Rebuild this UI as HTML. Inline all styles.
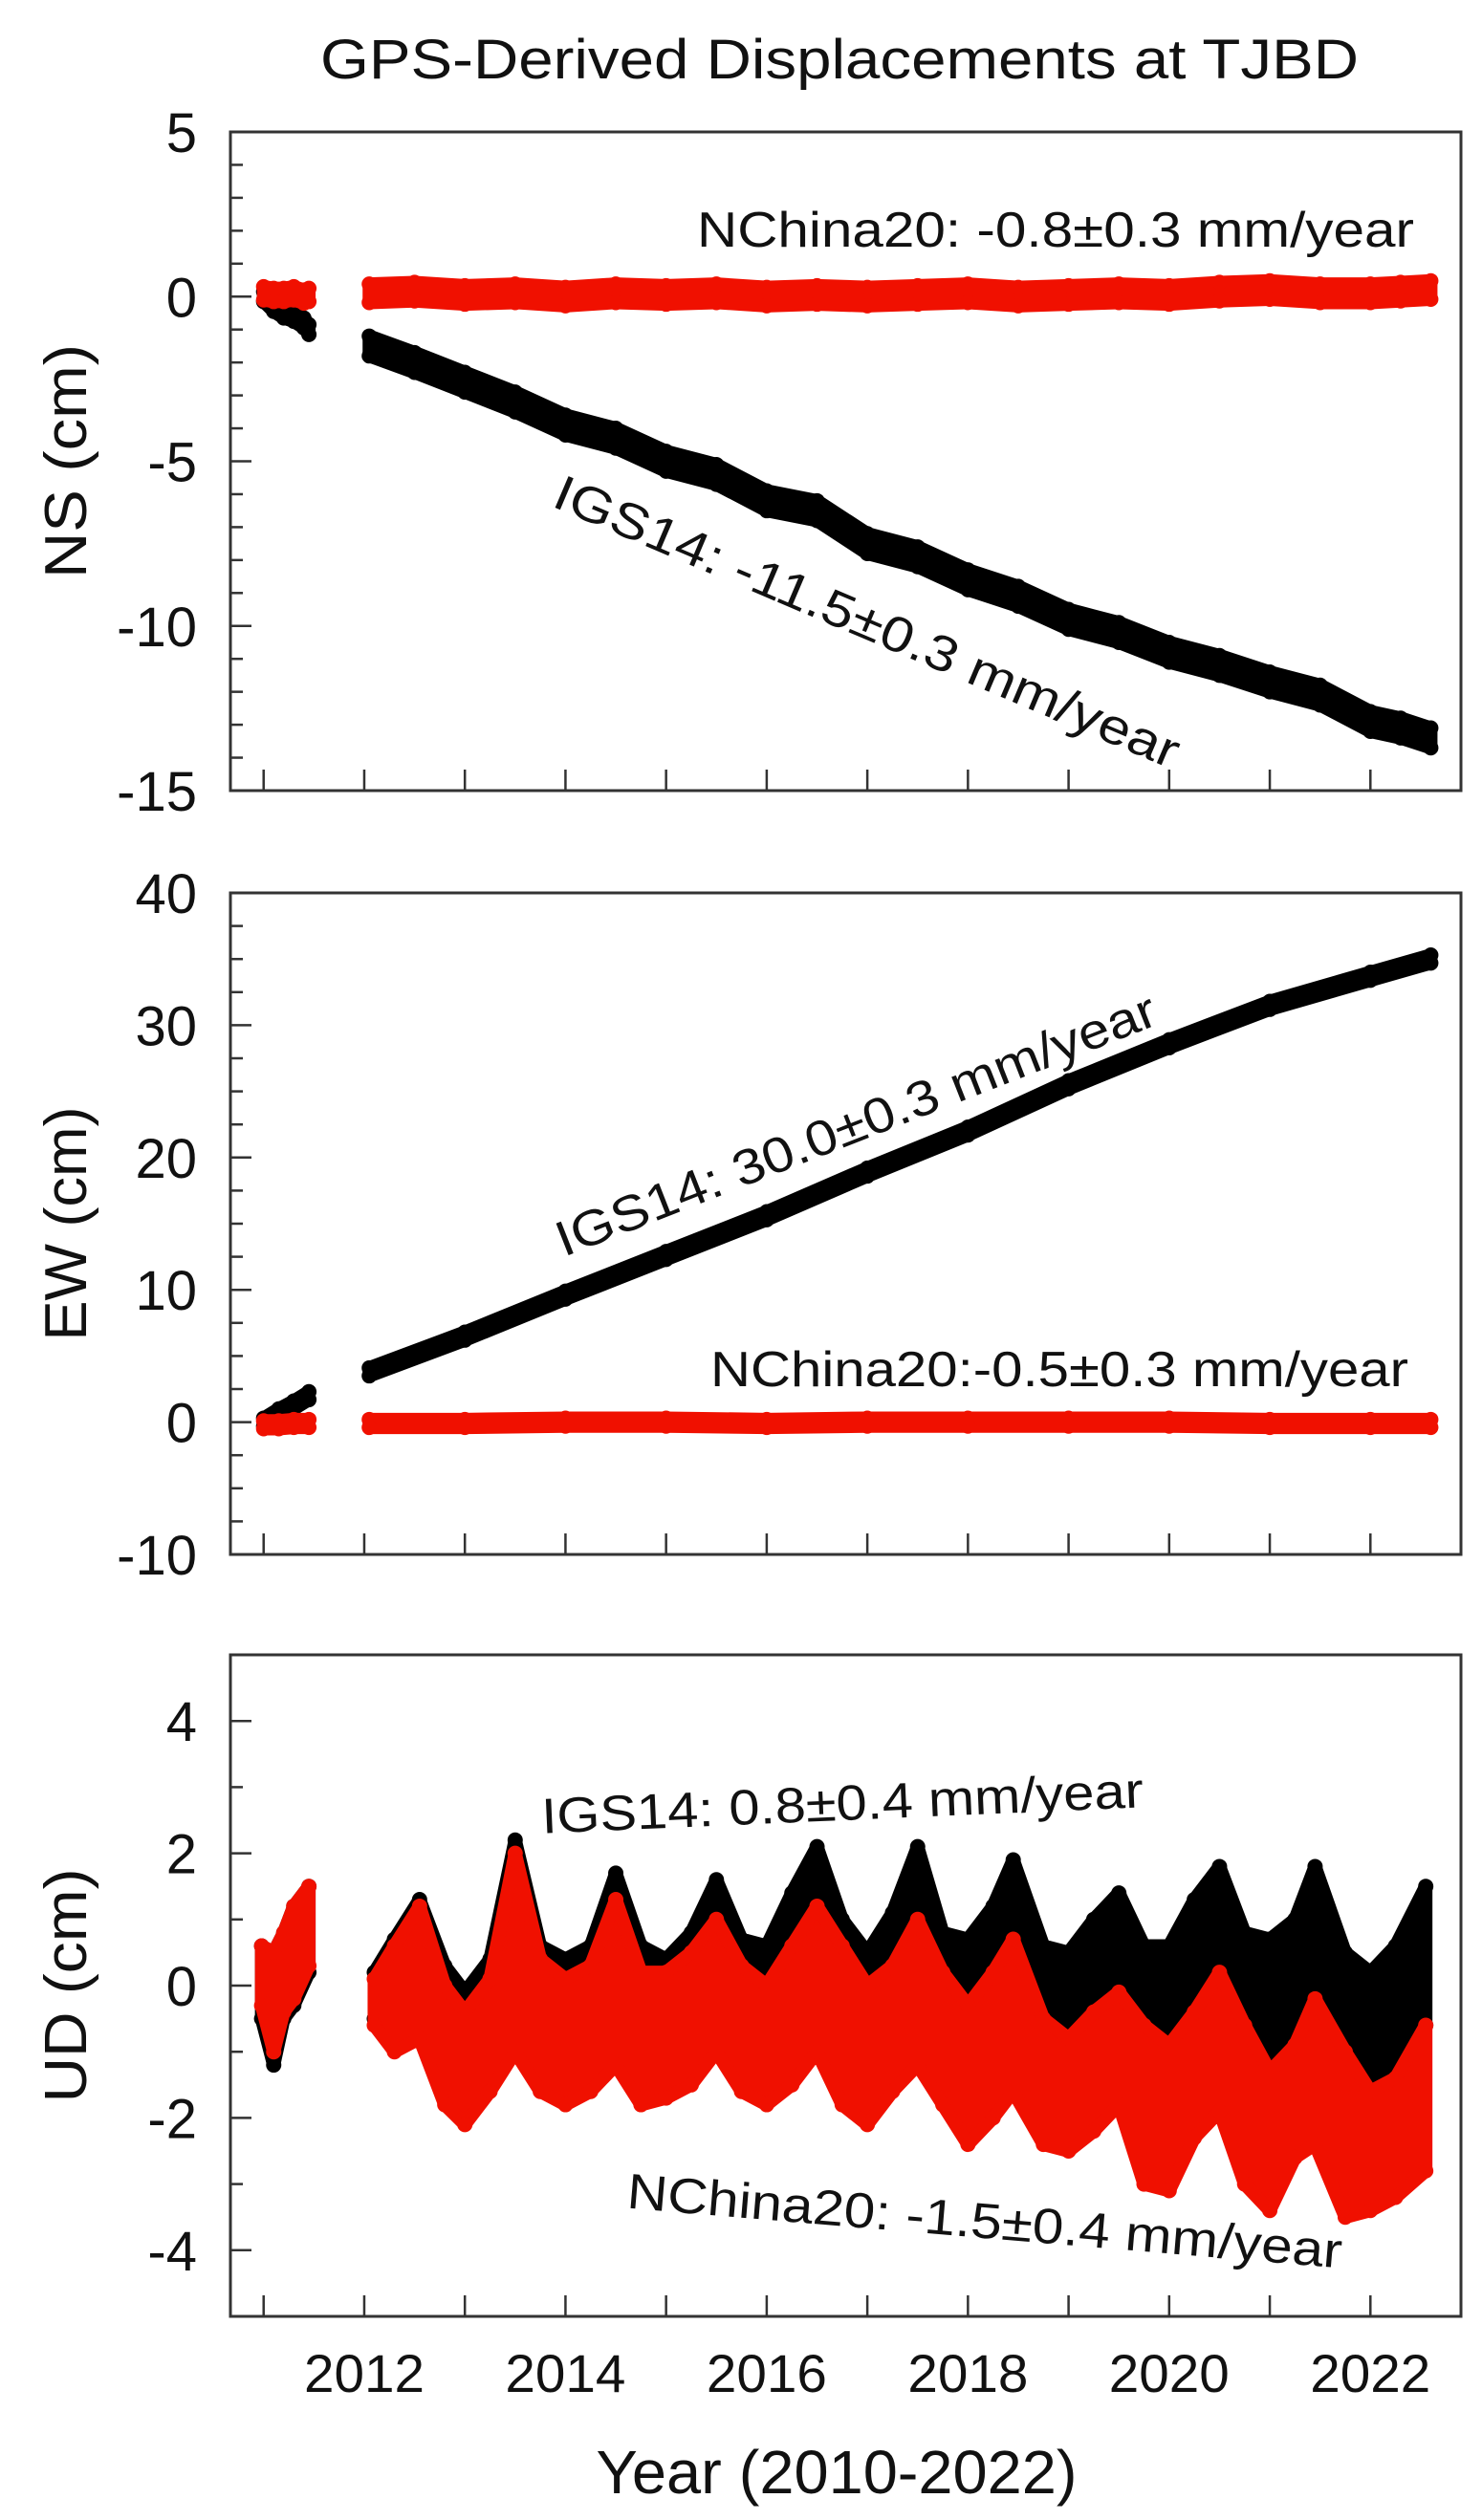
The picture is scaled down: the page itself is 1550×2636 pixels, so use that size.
<!DOCTYPE html>
<html><head><meta charset="utf-8"><style>
html,body{margin:0;padding:0;background:#fff}
svg{display:block}
text{font-family:"Liberation Sans",sans-serif;fill:#111}
</style></head><body>
<svg id="chart" width="1550" height="2636" viewBox="0 0 1550 2636" xmlns="http://www.w3.org/2000/svg">
<text x="878" y="82" font-size="58" text-anchor="middle" textLength="1086" lengthAdjust="spacingAndGlyphs">GPS-Derived Displacements at TJBD</text>
<g id="panels"></g>
<text x="875" y="2608" font-size="64" text-anchor="middle" textLength="503" lengthAdjust="spacingAndGlyphs">Year (2010-2022)</text>
</svg>
<script>
// ---- data ----
const xTickYears = [2011,2012,2013,2014,2015,2016,2017,2018,2019,2020,2021,2022];
const xLabelYears = [2012,2014,2016,2018,2020,2022];
const nsTicks = [5,0,-5,-10,-15];
const ewTicks = [40,30,20,10,0,-10];
const udTicks = [4,2,0,-2,-4];
// NS series (cm)
const nsT1 = [2011.0,2011.1,2011.2,2011.3,2011.4,2011.45];
const nsBlack1 = [0,-0.3,-0.5,-0.6,-0.8,-1.0];
const nsRed1 = [0.1,0.05,0.05,0.1,0.0,0.05];
const nsT2 = [2012.05,2012.5,2013.0,2013.5,2014.0,2014.5,2015.0,2015.5,2016.0,2016.5,2017.0,2017.5,2018.0,2018.5,2019.0,2019.5,2020.0,2020.5,2021.0,2021.5,2022.0,2022.3,2022.6];
const nsBlack2 = [-1.5,-2.0,-2.6,-3.2,-3.9,-4.3,-5.0,-5.4,-6.2,-6.5,-7.5,-7.9,-8.6,-9.1,-9.8,-10.2,-10.8,-11.2,-11.7,-12.1,-12.9,-13.1,-13.4];
const nsRed2 = [0.1,0.15,0.05,0.1,0.0,0.1,0.05,0.1,0.0,0.05,0.0,0.05,0.1,0.0,0.05,0.1,0.05,0.15,0.2,0.1,0.1,0.15,0.2];
// EW series (cm)
const ewT1 = [2011.0,2011.15,2011.3,2011.45];
const ewBlack1 = [0,0.7,1.3,2.0];
const ewRed1 = [-0.2,-0.2,-0.1,-0.1];
const ewT2 = [2012.05,2013,2014,2015,2016,2017,2018,2019,2020,2021,2022,2022.6];
const ewBlack2 = [3.8,6.5,9.6,12.6,15.6,18.9,22.0,25.5,28.6,31.5,33.7,35.0];
const ewRed2 = [-0.1,-0.1,0.0,0.0,-0.1,0.0,0.0,0.0,0.0,-0.1,-0.1,-0.1];
// UD series envelopes (cm)
const udT1 = [2010.98,2011.1,2011.2,2011.3,2011.45];
const udBlackHi1 = [0.6,0.5,0.8,1.2,1.5];
const udBlackLo1 = [-0.5,-1.2,-0.5,-0.3,0.2];
const udRedHi1 = [0.6,0.5,0.8,1.2,1.5];
const udRedLo1 = [-0.3,-1.0,-0.4,-0.2,0.3];
const udT2 = [2012.1,2012.3,2012.55,2012.8,2013.0,2013.25,2013.5,2013.75,2014.0,2014.25,2014.5,2014.75,2015.0,2015.25,2015.5,2015.75,2016.0,2016.25,2016.5,2016.75,2017.0,2017.25,2017.5,2017.75,2018.0,2018.25,2018.45,2018.75,2019.0,2019.25,2019.5,2019.75,2020.0,2020.25,2020.5,2020.75,2021.0,2021.25,2021.45,2021.75,2022.0,2022.25,2022.55];
const udBlackHi2 = [0.2,0.7,1.3,0.3,-0.1,0.4,2.2,0.6,0.4,0.6,1.7,0.6,0.4,0.8,1.6,0.7,0.6,1.4,2.1,1.0,0.5,1.1,2.1,0.8,0.7,1.2,1.9,0.6,0.5,1.0,1.4,0.6,0.6,1.3,1.8,0.8,0.7,1.0,1.8,0.5,0.2,0.6,1.5];
const udBlackLo2 = [-0.5,-0.8,-0.6,-1.4,-1.8,-1.2,-0.8,-1.2,-1.4,-1.2,-0.8,-1.2,-1.2,-1.0,-0.6,-1.0,-1.6,-1.0,-0.6,-1.2,-1.4,-0.9,-0.6,-1.0,-1.2,-1.0,-0.6,-1.4,-1.5,-1.2,-0.8,-1.4,-1.6,-1.2,-0.8,-1.4,-1.5,-1.0,-0.8,-1.5,-1.6,-1.2,-0.6];
const udRedHi2 = [0.1,0.6,1.2,0.0,-0.4,0.1,2.0,0.4,0.1,0.3,1.3,0.2,0.2,0.5,1.0,0.3,0.0,0.6,1.2,0.6,0.0,0.3,1.0,0.2,-0.3,0.2,0.7,-0.5,-0.8,-0.4,-0.1,-0.6,-0.9,-0.4,0.2,-0.6,-1.3,-0.9,-0.2,-1.0,-1.6,-1.4,-0.6];
const udRedLo2 = [-0.6,-1.0,-0.8,-1.8,-2.1,-1.6,-1.0,-1.6,-1.8,-1.6,-1.2,-1.8,-1.7,-1.5,-1.0,-1.6,-1.8,-1.5,-1.0,-1.8,-2.1,-1.6,-1.2,-1.8,-2.4,-2.0,-1.6,-2.4,-2.5,-2.2,-1.8,-3.0,-3.1,-2.3,-1.9,-3.0,-3.4,-2.6,-2.4,-3.5,-3.4,-3.2,-2.8];

// ---- layout ----
const X0 = 241, X1 = 1528, xMin = 2010.67, xMax = 2022.9;
const sx = t => X0 + (t - xMin) / (xMax - xMin) * (X1 - X0);
const NS = 'http://www.w3.org/2000/svg';
const root = document.getElementById('panels');
function mk(tag, attrs, parent){const e=document.createElementNS(NS,tag);for(const k in attrs)e.setAttribute(k,attrs[k]);(parent||root).appendChild(e);return e;}

function panel(name, top, bot, vMax, vMin, ticks, minorStep, title){
  const g = mk('g',{});
  
  
  const sy = v => top + (vMax - v) / (vMax - vMin) * (bot - top);
  const plot = mk('g',{},g);
  
  
  for(let v=vMin; v<=vMax+1e-9; v+=minorStep){
    const major = ticks.some(t=>Math.abs(t-v)<1e-9);
    const l = mk('line',{x1:X0,x2:X0+(major?22:13),y1:sy(v),y2:sy(v),stroke:'#333','stroke-width':2.5},g);
    
    
  }
  ticks.forEach(v=>{
    const t = mk('text',{x:206,y:sy(v)+21,'font-size':58,'text-anchor':'end'},g);
    t.textContent = v;
    
    
  });
  xTickYears.forEach(y=>{
    const l = mk('line',{x1:sx(y),x2:sx(y),y1:bot,y2:bot-22,stroke:'#333','stroke-width':2.5},g);
    
    
  });
  const f = mk('rect',{x:X0,y:top,width:X1-X0,height:bot-top,fill:'none',stroke:'#333','stroke-width':3},g);
  
  
  const yt = mk('text',{x:0,y:0,'font-size':62,'text-anchor':'middle',textLength:245,lengthAdjust:'spacingAndGlyphs',transform:`translate(90 ${(top+bot)/2}) rotate(-90)`},g);
  yt.textContent = title;
  
  
  return {g:plot, sy};
}

function band(p, ts, hi, lo, color, name){
  const pts = ts.map((t,i)=>sx(t)+','+p.sy(hi[i])).concat(ts.map((t,i)=>sx(t)+','+p.sy(lo[i])).reverse());
  const poly = mk('polygon',{points:pts.join(' '),fill:color,stroke:color,'stroke-width':14,'stroke-linejoin':'round'},p.g);
  
  
  ts.forEach((t,i)=>{
    [hi[i],lo[i]].forEach(v=>{
      const c = mk('circle',{cx:sx(t),cy:p.sy(v),r:8,fill:color},p.g);
      
      
    });
  });
}
function trace(p, ts, vals, half, color, name){
  band(p, ts, vals.map(v=>v+half), vals.map(v=>v-half), color, name);
}
function label(txt, cx, cy, len, rot, name){
  const t = mk('text',{x:cx,y:cy+18,'font-size':52,'text-anchor':'middle',textLength:len,lengthAdjust:'spacingAndGlyphs',transform:`rotate(${rot} ${cx} ${cy})`});
  t.textContent = txt;
  
  
}

// NS panel
const pNS = panel('ns', 138, 827, 5, -15, nsTicks, 1, 'NS (cm)');
trace(pNS, nsT1, nsBlack1, 0.15, '#000', 'ns-igs14');
trace(pNS, nsT2, nsBlack2, 0.3, '#000', 'ns-igs14');
trace(pNS, nsT1, nsRed1, 0.2, '#f01000', 'ns-nchina20');
trace(pNS, nsT2, nsRed2, 0.28, '#f01000', 'ns-nchina20');
label('NChina20: -0.8±0.3 mm/year', 1104, 240, 750, 0, 'ns-nchina20-rate-label');
label('IGS14: -11.5±0.3 mm/year', 907, 650, 705, 23, 'ns-igs14-rate-label');

// EW panel
const pEW = panel('ew', 934, 1626, 40, -10, ewTicks, 2.5, 'EW (cm)');
trace(pEW, ewT1, ewBlack1, 0.3, '#000', 'ew-igs14');
trace(pEW, ewT2, ewBlack2, 0.3, '#000', 'ew-igs14');
trace(pEW, ewT1, ewRed1, 0.3, '#f01000', 'ew-nchina20');
trace(pEW, ewT2, ewRed2, 0.3, '#f01000', 'ew-nchina20');
label('IGS14: 30.0±0.3 mm/year', 895, 1176, 670, -21.4, 'ew-igs14-rate-label');
label('NChina20:-0.5±0.3 mm/year', 1108, 1432, 730, 0, 'ew-nchina20-rate-label');

// UD panel
const pUD = panel('ud', 1731, 2423, 5, -5, udTicks, 1, 'UD (cm)');
band(pUD, udT1, udBlackHi1, udBlackLo1, '#000', 'ud-igs14');
band(pUD, udT2, udBlackHi2, udBlackLo2, '#000', 'ud-igs14');
band(pUD, udT1, udRedHi1, udRedLo1, '#f01000', 'ud-nchina20');
band(pUD, udT2, udRedHi2, udRedLo2, '#f01000', 'ud-nchina20');
label('IGS14: 0.8±0.4 mm/year', 881, 1886, 630, -2.5, 'ud-igs14-rate-label');
label('NChina20: -1.5±0.4 mm/year', 1030, 2323, 750, 4.8, 'ud-nchina20-rate-label');

// x tick labels (bottom panel)
xLabelYears.forEach(y=>{
  const t = mk('text',{x:sx(y),y:2502,'font-size':56,'text-anchor':'middle',textLength:126,lengthAdjust:'spacingAndGlyphs'});
  t.textContent = y;
  
  
});
</script>
</body></html>
